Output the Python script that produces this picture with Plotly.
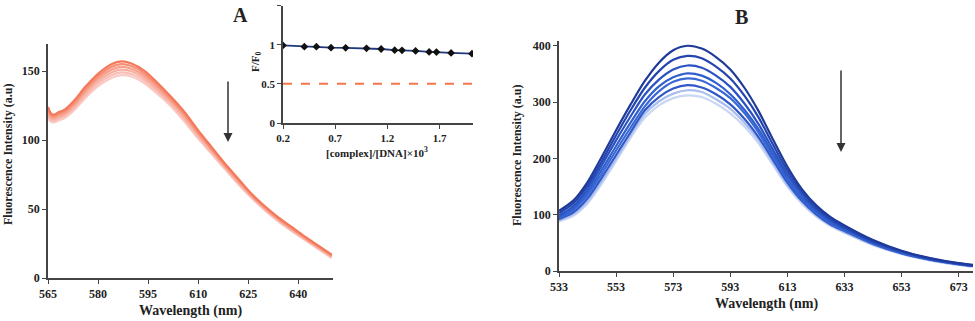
"""
Fluorescence quenching spectra, panels A and B
"""

import plotly.graph_objects as go

# ==================================================
# panel A : emission spectra

wl_a = [565, 566, 567, 568, 570, 573, 576, 580, 584, 587, 590, 594, 598,
        602, 606, 610, 614, 618, 622, 626, 630, 634, 638, 642, 646, 650]

spec_a = [
    [124, 119, 118.5, 120, 122, 129, 138, 148, 155, 157, 155.5, 150, 141,
     131, 120, 107, 95, 83, 72, 61, 52, 44, 37, 30, 23.5, 17],
    [122.4, 117.8, 117.4, 118.8, 120.8, 127.6, 136.4, 146.2, 153, 155, 153.6, 148.2, 139.4,
     129.6, 118.6, 105.8, 94, 82.2, 71.2, 60.4, 51.4, 43.4, 36.4, 29.5, 23, 16.5],
    [120.8, 116.6, 116.3, 117.6, 119.6, 126.2, 134.8, 144.4, 151, 153, 151.7, 146.4, 137.8,
     128.2, 117.2, 104.6, 93, 81.4, 70.4, 59.8, 50.8, 42.8, 35.8, 29, 22.5, 16],
    [119.2, 115.4, 115.2, 116.4, 118.4, 124.8, 133.2, 142.6, 149, 151, 149.8, 144.6, 136.2,
     126.8, 115.8, 103.4, 92, 80.6, 69.6, 59.2, 50.2, 42.2, 35.2, 28.5, 22, 15.5],
    [117.6, 114.2, 114.1, 115.2, 117.2, 123.4, 131.6, 140.8, 147, 149, 147.9, 142.8, 134.6,
     125.4, 114.4, 102.2, 91, 79.8, 68.8, 58.6, 49.6, 41.6, 34.6, 28, 21.5, 15],
    [116, 113, 113, 114, 116, 122, 130, 139, 145, 147, 146, 141, 133,
     124, 113, 101, 90, 79, 68, 58, 49, 41, 34, 27.5, 21, 14.5],
]

colors_a = ["#F4785A", "#F68E76", "#F7A08C", "#F8B0A2", "#F9BEB5", "#FACBC6"]

# ==================================================
# inset : F/F0 against [complex]/[DNA]

ratio = [0.2, 0.405, 0.52, 0.66, 0.80, 1.0, 1.14, 1.27, 1.34, 1.47, 1.60, 1.67, 1.81, 2.01]
f_f0 = [0.99, 0.975, 0.975, 0.962, 0.96, 0.953, 0.945, 0.93, 0.928, 0.92, 0.907, 0.905, 0.894, 0.885]
half_level = 0.5

# ==================================================
# panel B : emission spectra

wl_b = [533, 538, 543, 548, 553, 558, 563, 568, 573, 578, 583, 588, 593,
        598, 603, 608, 613, 618, 623, 628, 633, 643, 653, 663, 673, 678]

spec_b = [
    [107, 125, 158, 203, 250, 295, 337, 370, 392, 400, 395, 380, 358,
     325, 283, 233, 185, 146, 117, 96, 81, 55, 36, 23, 14, 11],
    [103, 120, 152, 195, 241, 285, 325, 355, 375, 382, 378, 363, 342,
     311, 272, 224, 178, 141, 113, 93, 78, 53, 35, 22, 13, 10],
    [99, 115, 146, 188, 232, 274, 313, 340, 358, 365, 361, 347, 327,
     297, 260, 215, 171, 136, 109, 90, 76, 51, 34, 21, 13, 10],
    [96, 111, 140, 180, 222, 263, 301, 328, 344, 351, 347, 334, 314,
     286, 251, 208, 165, 131, 106, 87, 74, 50, 33, 21, 12, 9],
    [94, 108, 135, 173, 214, 254, 292, 319, 336, 342, 338, 325, 307,
     280, 245, 203, 162, 129, 104, 85, 72, 49, 32, 20, 12, 9],
    [92, 104, 129, 166, 206, 246, 285, 309, 324, 330, 326, 314, 296,
     270, 237, 197, 157, 125, 101, 83, 71, 48, 31, 20, 12, 9],
    [90, 101, 124, 160, 200, 241, 279, 301, 315, 321, 318, 305, 288,
     263, 232, 192, 153, 123, 99, 82, 69, 47, 31, 19, 11, 8],
    [88, 98, 120, 155, 195, 236, 272, 294, 307, 312, 309, 297, 280,
     256, 226, 188, 150, 120, 97, 80, 68, 46, 30, 19, 11, 8],
]

colors_b = ["#1E3A9A", "#2444AE", "#2A52C2", "#3060CE", "#3A68D4", "#3158C8", "#A9BDEE", "#C9D6F4"]

# ==================================================
# layout positions in screen pixels

W, H = 975, 321


def px(x):
    return x / W


def py(y):
    return 1 - y / H


SERIF = "Liberation Serif"
tick_font = dict(family=SERIF, size=12, color="#222222", weight="bold")
title_font = dict(family=SERIF, size=14, color="#222222", weight="bold")

fig = go.Figure()

for ys, c in zip(spec_a[::-1], colors_a[::-1]):

    fig.add_scatter(
        x=wl_a, y=ys, mode="lines", xaxis="x", yaxis="y",
        line=dict(color=c, width=2.2, shape="spline", smoothing=0.8),
        showlegend=False, hoverinfo="skip",
    )

fig.add_scatter(
    x=ratio, y=f_f0, mode="lines+markers", xaxis="x2", yaxis="y2",
    line=dict(color="#1F3A7A", width=1.8),
    marker=dict(symbol="diamond", size=6, color="#111111"),
    showlegend=False,
)

for ys, c in zip(spec_b[::-1], colors_b[::-1]):

    fig.add_scatter(
        x=wl_b, y=ys, mode="lines", xaxis="x3", yaxis="y3",
        line=dict(color=c, width=2.2, shape="spline", smoothing=0.8),
        showlegend=False, hoverinfo="skip",
    )

axis_style = dict(
    showgrid=False, zeroline=False, showline=True, automargin=False,
    linecolor="#444444", linewidth=1.5,
    ticks="outside", ticklen=4, tickcolor="#444444",
    tickfont=tick_font,
)

inset_style = {**axis_style, "tickfont": dict(tick_font, size=11)}

fig.update_layout(
    width=W, height=H,
    margin=dict(l=0, r=0, t=0, b=0),
    paper_bgcolor="white", plot_bgcolor="white",

    xaxis=dict(domain=[px(48), px(333)], range=[565, 650.4], tickvals=[565, 580, 595, 610, 625, 640],
               anchor="y", **axis_style),
    yaxis=dict(domain=[py(278), py(44)], range=[0, 169.6], tickvals=[0, 50, 100, 150],
               anchor="x", **axis_style),

    xaxis2=dict(domain=[px(283), px(473)], range=[0.2, 2.02], tickvals=[0.2, 0.7, 1.2, 1.7],
                anchor="y2", **inset_style),
    yaxis2=dict(domain=[py(123), py(5.5)], range=[0, 1.5], tickvals=[0, 0.5, 1, 1.5],
                anchor="x2", **inset_style),

    xaxis3=dict(domain=[px(559), px(973)], range=[533, 678], tickvals=[533, 553, 573, 593, 613, 633, 653, 673],
                anchor="y3", **axis_style),
    yaxis3=dict(domain=[py(271), py(40.7)], range=[0, 409], tickvals=[0, 100, 200, 300, 400],
                anchor="x3", **axis_style),
)

# 50 % level in the inset
fig.add_shape(
    type="line", xref="x2 domain", yref="y2",
    x0=0, x1=1, y0=half_level, y1=half_level,
    line=dict(color="#F4764E", width=2, dash="dash"),
)

# titles, panel letters, arrows
texts = [
    dict(x=px(190), y=py(311), text="Wavelength (nm)", font=title_font),
    dict(x=px(766), y=py(304), text="Wavelength (nm)", font=title_font),
    dict(x=px(8), y=py(155), text="Fluorescence Intensity (a.u)", font=dict(title_font, size=12), textangle=-90),
    dict(x=px(517), y=py(156), text="Fluorescence Intensity (a.u)", font=dict(title_font, size=12), textangle=-90),
    dict(x=px(256), y=py(62), text="F/F<sub>0</sub>", font=dict(title_font, size=11), textangle=-90),
    dict(x=px(377), y=py(152), text="[complex]/[DNA]×10<sup>3</sup>", font=dict(title_font, size=11)),
    dict(x=px(240), y=py(15), text="A", font=dict(title_font, size=20)),
    dict(x=px(741), y=py(17), text="B", font=dict(title_font, size=20)),
]

for t in texts:

    fig.add_annotation(xref="paper", yref="paper", showarrow=False,
                       xanchor="center", yanchor="middle", **t)

for ax_x, top, bottom in [(228, 80, 142), (841, 69, 152)]:

    fig.add_annotation(
        xref="paper", yref="paper",
        x=px(ax_x), y=py(bottom),
        ax=0, ay=-(bottom - top),
        text="", showarrow=True,
        arrowhead=2, arrowsize=1.2, arrowwidth=1.5, arrowcolor="#333333",
    )

# drop the default page margin so the figure fills the window exactly
fig.write_html(
    "out.html",
    config={"displayModeBar": False},
    post_script="document.body.style.margin = '0';",
)
